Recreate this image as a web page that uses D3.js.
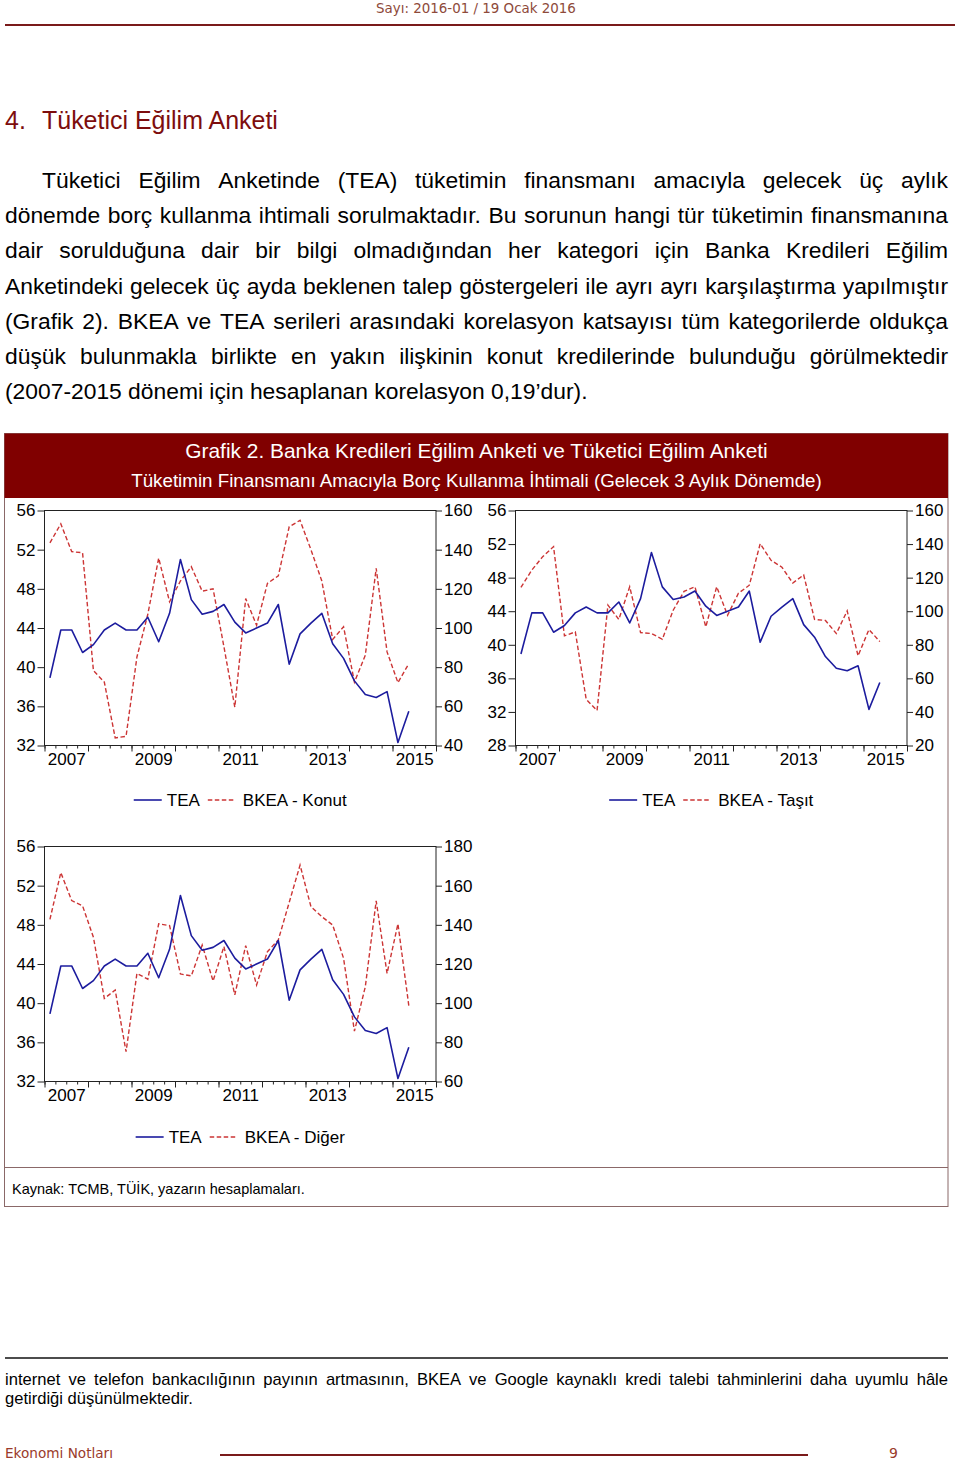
<!DOCTYPE html>
<html><head><meta charset="utf-8">
<script src="https://cdn.jsdelivr.net/npm/d3@7"></script>
<style>body{margin:0;background:#fff}svg{display:block}</style>
</head><body>
<script>
// ---------------- DATA ----------------
const quarters = ["2007Q1","2007Q2","2007Q3","2007Q4","2008Q1","2008Q2","2008Q3","2008Q4",
  "2009Q1","2009Q2","2009Q3","2009Q4","2010Q1","2010Q2","2010Q3","2010Q4",
  "2011Q1","2011Q2","2011Q3","2011Q4","2012Q1","2012Q2","2012Q3","2012Q4",
  "2013Q1","2013Q2","2013Q3","2013Q4","2014Q1","2014Q2","2014Q3","2014Q4",
  "2015Q1","2015Q2"];
const tea = [38.9,43.8,43.8,41.5,42.3,43.8,44.5,43.8,43.8,45.1,42.6,45.5,51.0,46.9,45.4,45.7,
  46.4,44.6,43.5,44.0,44.5,46.4,40.3,43.4,44.5,45.5,42.4,40.9,38.6,37.2,36.9,37.5,32.3,35.5];
const bkeaKonut = [143.5,153.2,139.0,138.4,78.2,72.4,43.9,44.7,85.2,107.0,135.7,113.4,124.0,131.3,118.8,120.0,
  90.4,59.6,115.0,101.4,122.8,126.6,151.7,155.0,140.0,124.0,94.2,100.6,72.4,86.1,130.5,87.8,72.1,81.8];
const bkeaTasit = [114.2,124.5,132.5,138.5,85.3,87.7,47.5,40.9,103.6,95.1,114.6,87.3,86.7,83.3,100.6,111.8,
  114.6,90.7,114.6,97.6,110.7,115.5,140.2,130.3,126.2,116.8,121.6,95.1,94.5,86.7,100.2,73.4,89.1,81.9];
const bkeaDiger = [142.8,166.7,152.4,149.7,133.6,102.4,106.7,75.2,115.2,112.3,140.5,139.6,114.9,113.9,129.7,111.3,
  128.9,104.2,129.4,109.3,126.3,132.3,151.4,170.5,149.3,144.2,139.9,122.9,85.7,108.4,152.2,115.2,140.5,98.7];
const yearLabels = [2007, 2009, 2011, 2013, 2015];
const leftTicksA = [32,36,40,44,48,52,56];
const leftTicksB = [28,32,36,40,44,48,52,56];
const rightTicksKonut = [40,60,80,100,120,140,160];
const rightTicksTasit = [20,40,60,80,100,120,140,160];
const rightTicksDiger = [60,80,100,120,140,160,180];

// ---------------- SETUP ----------------
const W = 960, H = 1463;
const SANS = "'Liberation Sans', Arial, Helvetica, sans-serif";
const GOTH = "'DejaVu Sans', sans-serif";
const svg = d3.select("body").append("svg").attr("width", W).attr("height", H)
  .style("font-family", SANS);

function fit(t, width) {
  const fs = parseFloat(t.style("font-size"));
  const w = t.node().getComputedTextLength();
  t.style("font-size", (fs * width / w) + "px");
  return fs * width / w;
}
function fitSize(str, width, family) {
  const t = svg.append("text").style("font-family", family).style("font-size", "20px").text(str);
  const w = t.node().getComputedTextLength();
  t.remove();
  return 20 * width / w;
}
function justify(str, x0, x1, y, fs, family, color) {
  const words = str.split(" ");
  const t = svg.append("text").attr("y", y).style("font-size", fs + "px")
    .style("font-family", family).attr("fill", color);
  const spans = words.map(w => t.append("tspan").text(w));
  const widths = spans.map(s => s.node().getComputedTextLength());
  const gap = (x1 - x0 - d3.sum(widths)) / (words.length - 1);
  let x = x0;
  spans.forEach((s, i) => { s.attr("x", x); x += widths[i] + gap; });
}

// ---------------- PAGE HEADER ----------------
const hdr = svg.append("text").attr("x", 476).attr("y", 13).attr("text-anchor", "middle")
  .attr("fill", "#8e4a3a").style("font-family", GOTH).style("font-size", "14px")
  .text("Sayı: 2016-01 / 19 Ocak 2016");
fit(hdr, 200);
svg.append("line").attr("x1", 5).attr("x2", 955).attr("y1", 25).attr("y2", 25)
  .attr("stroke", "#7a1a1a").attr("stroke-width", 2);

// Section title
const secFs = fitSize("Tüketici Eğilim Anketi", 236, SANS);
svg.append("text").attr("x", 5).attr("y", 129).attr("fill", "#7d0d0d")
  .style("font-size", secFs + "px").text("4.");
svg.append("text").attr("x", 42).attr("y", 129).attr("fill", "#7d0d0d")
  .style("font-size", secFs + "px").text("Tüketici Eğilim Anketi");

// Paragraph
const para = [
  "Tüketici Eğilim Anketinde (TEA) tüketimin finansmanı amacıyla gelecek üç aylık",
  "dönemde borç kullanma ihtimali sorulmaktadır. Bu sorunun hangi tür tüketimin finansmanına",
  "dair sorulduğuna dair bir bilgi olmadığından her kategori için Banka Kredileri Eğilim",
  "Anketindeki gelecek üç ayda beklenen talep göstergeleri ile ayrı ayrı karşılaştırma yapılmıştır",
  "(Grafik 2). BKEA ve TEA serileri arasındaki korelasyon katsayısı tüm kategorilerde oldukça",
  "düşük bulunmakla birlikte en yakın ilişkinin konut kredilerinde bulunduğu görülmektedir",
  "(2007-2015 dönemi için hesaplanan korelasyon 0,19’dur)."
];
const pFs = fitSize(para[6], 583, SANS);
para.forEach((line, i) => {
  const y = 188 + i * 35.2;
  if (i === 6) {
    svg.append("text").attr("x", 5).attr("y", y).style("font-size", pFs + "px").text(line);
  } else {
    justify(line, i === 0 ? 42 : 5, 948, y, pFs, SANS, "#000");
  }
});

// ---------------- CHART BOX ----------------
svg.append("rect").attr("x", 4.5).attr("y", 433.5).attr("width", 943.5).attr("height", 773)
  .attr("fill", "#fff").attr("stroke", "#8a6868").attr("stroke-width", 1);
svg.append("rect").attr("x", 4.5).attr("y", 433.5).attr("width", 943.5).attr("height", 64.5)
  .attr("fill", "#800000");
const t1 = svg.append("text").attr("x", 476.5).attr("y", 458).attr("text-anchor", "middle")
  .attr("fill", "#fff").style("font-size", "18px")
  .text("Grafik 2. Banka Kredileri Eğilim Anketi ve Tüketici Eğilim Anketi");
fit(t1, 583);
const t2 = svg.append("text").attr("x", 476.5).attr("y", 487).attr("text-anchor", "middle")
  .attr("fill", "#fff").style("font-size", "17px")
  .text("Tüketimin Finansmanı Amacıyla Borç Kullanma İhtimali (Gelecek 3 Aylık Dönemde)");
fit(t2, 691);
svg.append("line").attr("x1", 4.5).attr("x2", 948).attr("y1", 1167.5).attr("y2", 1167.5)
  .attr("stroke", "#8a6868").attr("stroke-width", 1);
const src = svg.append("text").attr("x", 12).attr("y", 1194).style("font-size", "13px")
  .text("Kaynak: TCMB, TÜİK, yazarın hesaplamaları.");
fit(src, 293);

// ---------------- CHARTS ----------------
const tOf = q => +q.slice(0, 4) + (+q.slice(5) - 0.5) / 4;
const TEA_COLOR = "#1c1c9e", BKEA_COLOR = "#cc3535";

function drawChart(cfg) {
  const g = svg.append("g");
  const x = d3.scaleLinear().domain([2007, 2016]).range([cfg.x0, cfg.x1]);
  const yL = d3.scaleLinear().domain(d3.extent(cfg.leftTicks)).range([cfg.y1, cfg.y0]);
  const yR = d3.scaleLinear().domain(d3.extent(cfg.rightTicks)).range([cfg.y1, cfg.y0]);

  // quarter ticks & year ticks
  const qTicks = d3.range(0, 37).map(i => 2007 + i / 4);
  const yTicks = d3.range(2007, 2017);
  g.append("g").attr("transform", `translate(0,${cfg.y1})`)
    .call(d3.axisBottom(x).tickValues(qTicks).tickSize(3).tickSizeOuter(0).tickFormat(""))
    .call(a => a.select(".domain").remove());
  g.append("g").attr("transform", `translate(0,${cfg.y1})`)
    .call(d3.axisBottom(x).tickValues(yTicks).tickSize(6).tickSizeOuter(0).tickFormat(""))
    .call(a => a.select(".domain").remove());
  g.append("g").attr("transform", `translate(0,${cfg.y1})`)
    .call(d3.axisBottom(x).tickValues(yearLabels.map(y => y + 0.5)).tickSize(0).tickPadding(7)
      .tickFormat(d => String(Math.floor(d))))
    .call(a => a.select(".domain").remove())
    .selectAll("text").style("font-size", "17px").style("font-family", SANS).attr("fill", "#000");

  g.append("g").attr("transform", `translate(${cfg.x0},0)`)
    .call(d3.axisLeft(yL).tickValues(cfg.leftTicks).tickSize(7).tickPadding(2).tickSizeOuter(0))
    .call(a => a.select(".domain").remove())
    .selectAll("text").style("font-size", "17px").style("font-family", SANS).attr("fill", "#000");
  g.append("g").attr("transform", `translate(${cfg.x1},0)`)
    .call(d3.axisRight(yR).tickValues(cfg.rightTicks).tickSize(6).tickPadding(2).tickSizeOuter(0))
    .call(a => a.select(".domain").remove())
    .selectAll("text").style("font-size", "17px").style("font-family", SANS).attr("fill", "#000");
  g.selectAll(".tick line").attr("stroke", "#222");

  g.append("rect").attr("x", cfg.x0).attr("y", cfg.y0)
    .attr("width", cfg.x1 - cfg.x0).attr("height", cfg.y1 - cfg.y0)
    .attr("fill", "none").attr("stroke", "#222").attr("stroke-width", 1);

  const lineL = d3.line().x((d, i) => x(tOf(quarters[i]))).y(d => yL(d));
  const lineR = d3.line().x((d, i) => x(tOf(quarters[i]))).y(d => yR(d));
  g.append("path").datum(cfg.bkea).attr("d", lineR).attr("fill", "none")
    .attr("stroke", BKEA_COLOR).attr("stroke-width", 1.4).attr("stroke-dasharray", "4.5,2.5");
  g.append("path").datum(tea).attr("d", lineL).attr("fill", "none")
    .attr("stroke", TEA_COLOR).attr("stroke-width", 1.6).attr("stroke-linejoin", "round");

  // legend
  const lg = g.append("g");
  lg.append("line").attr("x1", 0).attr("x2", 28).attr("y1", 0).attr("y2", 0)
    .attr("stroke", TEA_COLOR).attr("stroke-width", 1.6);
  const tt = lg.append("text").attr("x", 33).attr("y", 6).style("font-size", "17px").text("TEA");
  const tw = tt.node().getComputedTextLength();
  const dx = 33 + tw + 8;
  lg.append("line").attr("x1", dx).attr("x2", dx + 28).attr("y1", 0).attr("y2", 0)
    .attr("stroke", BKEA_COLOR).attr("stroke-width", 1.4).attr("stroke-dasharray", "4.5,2.5");
  const lt = lg.append("text").attr("x", dx + 35).attr("y", 6).style("font-size", "17px").text(cfg.label);
  const total = dx + 35 + lt.node().getComputedTextLength();
  lg.attr("transform", `translate(${(cfg.x0 + cfg.x1) / 2 - total / 2},${cfg.legendY})`);
}

drawChart({x0: 44.5, x1: 436, y0: 510.5, y1: 745.5, leftTicks: leftTicksA, rightTicks: rightTicksKonut,
  bkea: bkeaKonut, label: "BKEA - Konut", legendY: 800});
drawChart({x0: 515.5, x1: 907, y0: 510.5, y1: 745.5, leftTicks: leftTicksB, rightTicks: rightTicksTasit,
  bkea: bkeaTasit, label: "BKEA - Taşıt", legendY: 800});
drawChart({x0: 44.5, x1: 436, y0: 846.5, y1: 1081.5, leftTicks: leftTicksA, rightTicks: rightTicksDiger,
  bkea: bkeaDiger, label: "BKEA - Diğer", legendY: 1137});

// ---------------- FOOTNOTE & FOOTER ----------------
svg.append("line").attr("x1", 5).attr("x2", 948).attr("y1", 1358).attr("y2", 1358)
  .attr("stroke", "#111").attr("stroke-width", 1.5);
const fnFs = fitSize("getirdiği düşünülmektedir.", 188, SANS);
justify("internet ve telefon bankacılığının payının artmasının, BKEA ve Google kaynaklı kredi talebi tahminlerini daha uyumlu hâle",
  5, 948, 1385, fnFs, SANS, "#000");
svg.append("text").attr("x", 5).attr("y", 1404).style("font-size", fnFs + "px").text("getirdiği düşünülmektedir.");

const ft = svg.append("text").attr("x", 5).attr("y", 1458).attr("fill", "#9a3b2b")
  .style("font-family", GOTH).style("font-size", "14px").text("Ekonomi Notları");
fit(ft, 108);
svg.append("line").attr("x1", 220).attr("x2", 808).attr("y1", 1455).attr("y2", 1455)
  .attr("stroke", "#7a1a1a").attr("stroke-width", 2);
svg.append("text").attr("x", 889).attr("y", 1458).attr("fill", "#9a3b2b")
  .style("font-family", GOTH).style("font-size", "14px").text("9");
</script>
</body></html>
